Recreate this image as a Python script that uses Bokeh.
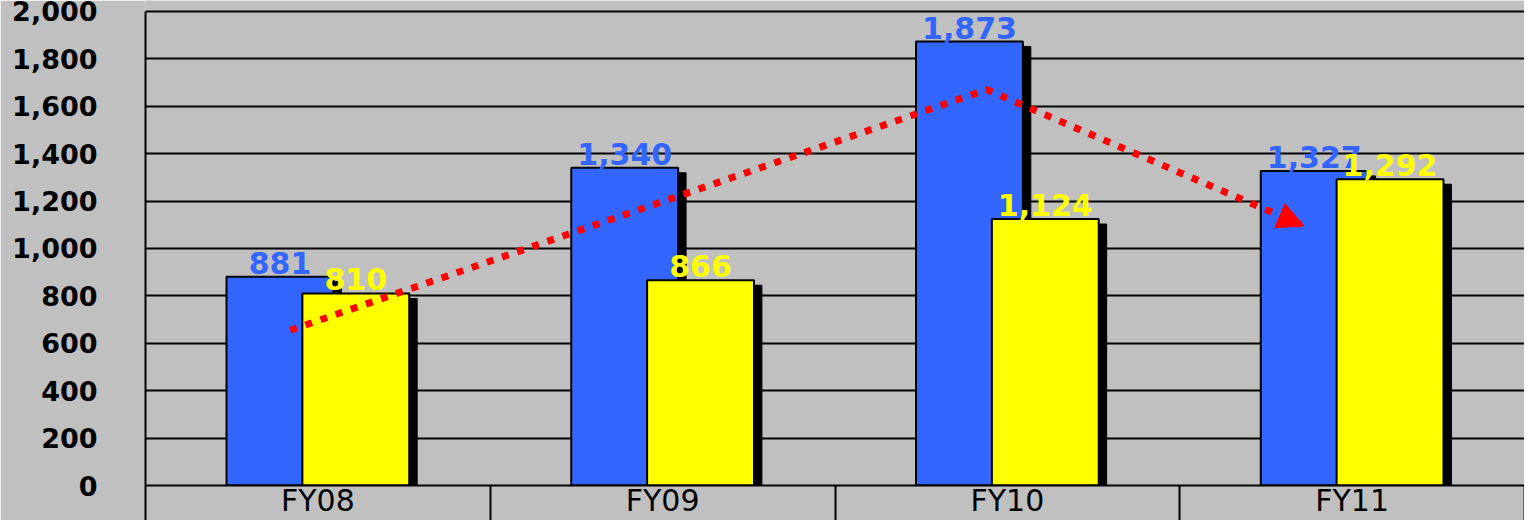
from bokeh.plotting import figure
from bokeh.models import Range1d, FixedTicker, Arrow, NormalHead, ColumnDataSource
from bokeh.core.properties import value
from bokeh.embed import file_html
from bokeh.resources import INLINE

# ---- data ----
categories = ["FY08", "FY09", "FY10", "FY11"]
blue_values = [881, 1340, 1873, 1327]
yellow_values = [810, 866, 1124, 1292]
blue_labels = ["881", "1,340", "1,873", "1,327"]
yellow_labels = ["810", "866", "1,124", "1,292"]
y_ticks = [0, 200, 400, 600, 800, 1000, 1200, 1400, 1600, 1800, 2000]
y_tick_labels = ["0", "200", "400", "600", "800", "1,000", "1,200", "1,400", "1,600", "1,800", "2,000"]
# trend arrow (category units, value units)
trend_x = [0.42, 2.44, 3.36]
trend_y = [655, 1670, 1095]

# ---- styling constants ----
BG = "#C0C0C0"
BLUE = "#3366FF"
YELLOW = "#FFFF00"
OFF = 0.11
BW = 0.31
SH_DX = 0.023
SH_DY = 21

centers = [i + 0.5 for i in range(len(categories))]

p = figure(width=1524, height=520, output_backend="svg", toolbar_location=None,
           x_range=Range1d(0, 4), y_range=Range1d(0, 2046),
           min_border_left=145, min_border_right=0, min_border_top=0, min_border_bottom=35,
           background_fill_color=BG, border_fill_color=BG, outline_line_color=None)

p.xgrid.visible = False
p.ygrid.ticker = FixedTicker(ticks=y_ticks)
p.ygrid.grid_line_color = "black"
p.ygrid.grid_line_width = 2

# y axis
p.yaxis.ticker = FixedTicker(ticks=y_ticks)
p.yaxis.major_label_overrides = {t: l for t, l in zip(y_ticks, y_tick_labels)}
p.yaxis.bounds = (0, 2000)
p.yaxis.axis_line_color = "black"
p.yaxis.axis_line_width = 2
p.yaxis.major_tick_line_color = None
p.yaxis.major_tick_out = 0
p.yaxis.major_tick_in = 0
p.yaxis.minor_tick_line_color = None
p.yaxis.minor_tick_out = 0
p.yaxis.minor_tick_in = 0
p.yaxis.major_label_standoff = 48
p.yaxis.major_label_text_font = "DejaVu Sans"
p.yaxis.major_label_text_font_style = "bold"
p.yaxis.major_label_text_font_size = "27px"
p.yaxis.major_label_text_color = "black"

# x axis
p.xaxis.ticker = FixedTicker(ticks=centers, minor_ticks=[0, 1, 2, 3, 4])
p.xaxis.major_label_overrides = {c: n for c, n in zip(centers, categories)}
p.xaxis.axis_line_color = "black"
p.xaxis.axis_line_width = 2
p.xaxis.major_tick_line_color = None
p.xaxis.major_tick_out = 0
p.xaxis.major_tick_in = 0
p.xaxis.minor_tick_line_color = "black"
p.xaxis.minor_tick_line_width = 2
p.xaxis.minor_tick_out = 35
p.xaxis.minor_tick_in = 0
p.xaxis.major_label_standoff = -38
p.xaxis.major_label_text_font = "DejaVu Sans"
p.xaxis.major_label_text_font_size = "30px"
p.xaxis.major_label_text_color = "black"

blue_x = [c - OFF for c in centers]
yellow_x = [c + OFF for c in centers]

src = ColumnDataSource(dict(
    bx=blue_x, yx=yellow_x,
    bsx=[x + SH_DX for x in blue_x], ysx=[x + SH_DX for x in yellow_x],
    b=blue_values, yv=yellow_values,
    bs=[v - SH_DY for v in blue_values], ys=[v - SH_DY for v in yellow_values],
    bl=blue_labels, yl=yellow_labels,
))

# blue bar + shadow
p.vbar(x="bsx", top="bs", bottom=0, width=BW, source=src, fill_color="black", line_color="black")
p.vbar(x="bx", top="b", bottom=0, width=BW, source=src, fill_color=BLUE, line_color="black", line_width=2)
# yellow bar + shadow
p.vbar(x="ysx", top="ys", bottom=0, width=BW, source=src, fill_color="black", line_color="black")
p.vbar(x="yx", top="yv", bottom=0, width=BW, source=src, fill_color=YELLOW, line_color="black", line_width=2)

# trend dotted line with arrow head
p.line(trend_x, trend_y, line_color="red", line_width=7, line_dash="7 9")
p.add_layout(Arrow(end=NormalHead(size=26, fill_color="red", line_color="red"),
                   x_start=trend_x[-2], y_start=trend_y[-2],
                   x_end=trend_x[-1], y_end=trend_y[-1], line_alpha=0))

# value labels
p.text(x="bx", y="b", text="bl", source=src, text_align="center", text_baseline="alphabetic",
       y_offset=-14, text_color=BLUE, text_font=value("DejaVu Sans"), text_font_style="bold",
       text_font_size="30px")
p.text(x="yx", y="yv", text="yl", source=src, text_align="center", text_baseline="alphabetic",
       y_offset=-14, text_color=YELLOW, text_font=value("DejaVu Sans"), text_font_style="bold",
       text_font_size="30px")

open("out.html", "w").write(file_html(p, INLINE))
